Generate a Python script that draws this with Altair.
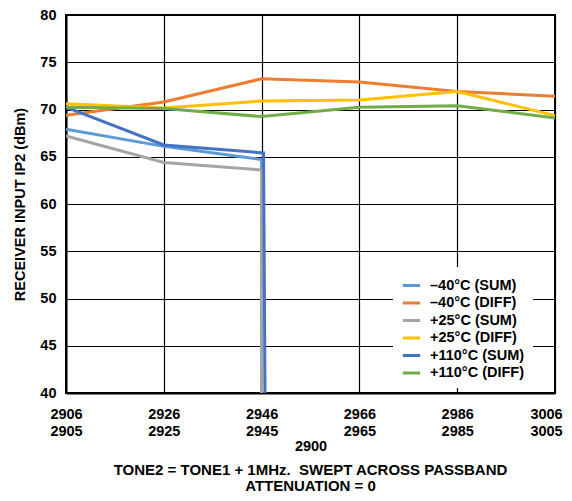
import altair as alt
import pandas as pd

FONT = "Liberation Sans"

series_names = ["–40°C (SUM)", "–40°C (DIFF)", "+25°C (SUM)", "+25°C (DIFF)", "+110°C (SUM)", "+110°C (DIFF)"]
colors = ["#5B9BD5", "#ED7D31", "#A5A5A5", "#FFC000", "#4472C4", "#70AD47"]

x_ticks = [2906, 2926, 2946, 2966, 2986, 3006]

m40_sum_x = [2906, 2926, 2946, 2946]
m40_sum_y = [67.9, 66.1, 64.7, 40]
m40_diff_x = [2906, 2926, 2946, 2966, 2986, 3006]
m40_diff_y = [69.4, 70.8, 73.25, 72.9, 71.9, 71.4]
p25_sum_x = [2906, 2926, 2946, 2946]
p25_sum_y = [67.2, 64.4, 63.6, 40]
p25_diff_x = [2906, 2926, 2946, 2966, 2986, 3006]
p25_diff_y = [70.6, 70.15, 70.9, 71.0, 71.9, 69.35]
p110_sum_x = [2906, 2926, 2946.4, 2946.7]
p110_sum_y = [70.25, 66.25, 65.4, 40]
p110_diff_x = [2906, 2926, 2946, 2966, 2986, 3006]
p110_diff_y = [70.25, 70.1, 69.25, 70.25, 70.4, 69.1]

all_x = [m40_sum_x, m40_diff_x, p25_sum_x, p25_diff_x, p110_sum_x, p110_diff_x]
all_y = [m40_sum_y, m40_diff_y, p25_sum_y, p25_diff_y, p110_sum_y, p110_diff_y]

rows = []
for name, xs, ys in zip(series_names, all_x, all_y):
    for i, (xv, yv) in enumerate(zip(xs, ys)):
        rows.append({"series": name, "x": xv, "y": yv, "i": i})
df = pd.DataFrame(rows)

chart = alt.Chart(df).mark_line(strokeWidth=3, clip=True).encode(
    x=alt.X("x:Q",
            scale=alt.Scale(domain=[2906, 3006], nice=False, zero=False),
            axis=alt.Axis(values=x_ticks, title="2900",
                          labelExpr="[datum.value + '', (datum.value - 1) + '']",
                          labelLineHeight=17, labelPadding=14, titlePadding=2,
                          labelOffset={"condition": {"test": "datum.value == 3006", "value": -9}, "value": 0},
                          ticks=False, labelFlush=False)),
    y=alt.Y("y:Q",
            scale=alt.Scale(domain=[40, 80], nice=False, zero=False),
            axis=alt.Axis(values=list(range(40, 81, 5)), title="RECEIVER INPUT IP2 (dBm)",
                          ticks=False, labelPadding=10, titlePadding=12)),
    color=alt.Color("series:N",
                    scale=alt.Scale(domain=series_names, range=colors),
                    sort=series_names,
                    legend=alt.Legend(title=None, orient="none", legendX=327, legendY=252,
                                      fillColor="white", padding=8,
                                      symbolType="stroke", symbolStrokeWidth=3,
                                      symbolSize=300, rowPadding=0.5,
                                      labelFont=FONT, labelFontSize=14.5, labelFontWeight="bold",
                                      labelColor="black", labelOffset=8)),
    order="i:Q",
).properties(
    width=489, height=378,
    title=alt.Title(["TONE2 = TONE1 + 1MHz.\u00a0\u00a0SWEPT ACROSS PASSBAND", "ATTENUATION = 0"],
                    orient="bottom", anchor="middle", font=FONT, fontSize=15,
                    fontWeight="bold", color="black", offset=10, lineHeight=16),
    autosize=alt.AutoSizeParams(type="none"),
    padding={"left": 58, "top": 7, "right": 9, "bottom": 100},
).configure_view(
    stroke="black", strokeWidth=2
).configure_axis(
    labelFont=FONT, labelFontSize=14.5, labelFontWeight="bold", labelColor="black",
    titleFont=FONT, titleFontSize=14.5, titleFontWeight="bold", titleColor="black",
    grid=True, gridColor="black", gridWidth=1.2, gridOpacity=1,
    domainColor="black", domainWidth=2,
)

chart.save("out.html", embed_options={"renderer": "svg", "actions": False})
